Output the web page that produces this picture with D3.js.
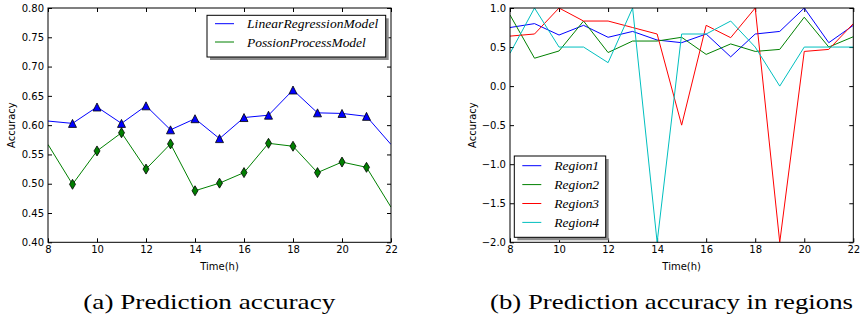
<!DOCTYPE html>
<html>
  <head>
    <meta charset="utf-8">
    <script src="https://d3js.org/d3.v7.min.js" type="text/javascript"></script>
    <style>
      body { margin: 0; background: white; }
      .tick text { font-family: "DejaVu Sans", sans-serif; font-size: 10px; fill: black; }
      .tick line { stroke: black; stroke-width: 1; }
      .label { font-family: "DejaVu Sans", sans-serif; font-size: 10px; }
      .legend text { font-family: "Liberation Serif", "Times New Roman", Times, serif; font-style: italic; font-size: 13.5px; }
      .caption { font-family: "Liberation Serif", "Times New Roman", Times, serif; font-size: 22px; }
    </style>
  </head>
  <body>
    <script>

      // hours on the x axis
      var hours = [8, 9, 10, 11, 12, 13, 14, 15, 16, 17, 18, 19, 20, 21, 22];
      var xTicks = [8, 10, 12, 14, 16, 18, 20, 22];

      // (a) overall accuracy
      var linearRegression = [0.607, 0.603, 0.631, 0.603, 0.633, 0.592, 0.611, 0.577, 0.613, 0.617, 0.660, 0.621, 0.620, 0.615, 0.567];
      var possionProcess = [0.567, 0.499, 0.556, 0.587, 0.525, 0.568, 0.488, 0.501, 0.519, 0.569, 0.564, 0.519, 0.537, 0.528, 0.460];
      var yTicksA = [0.40, 0.45, 0.50, 0.55, 0.60, 0.65, 0.70, 0.75, 0.80];

      // (b) accuracy per region
      var region1 = [0.75, 0.80, 0.654, 0.778, 0.625, 0.70, 0.59, 0.556, 0.667, 0.375, 0.667, 0.70, 1.0, 0.556, 0.778];
      var region2 = [0.91, 0.357, 0.45, 0.833, 0.43, 0.577, 0.577, 0.625, 0.406, 0.54, 0.444, 0.47, 0.882, 0.50, 0.632];
      var region3 = [0.64, 0.667, 1.0, 0.833, 0.833, 0.75, 0.667, -0.5, 0.778, 0.62, 1.0, -2.0, 0.444, 0.47, 0.80];
      var region4 = [0.42, 1.0, 0.5, 0.5, 0.30, 1.0, -2.0, 0.667, 0.667, 0.833, 0.5, 0.0, 0.5, 0.5, 0.5];
      var yTicksB = [-2.0, -1.5, -1.0, -0.5, 0.0, 0.5, 1.0];

      var svg = d3.select("body").append("svg")
          .attr("width", 861)
          .attr("height", 322);

      function panel(opt) {
        var x = d3.scaleLinear().domain([8, 22]).range([opt.left, opt.right]);
        var y = d3.scaleLinear().domain(opt.yDomain).range([opt.bottom, opt.top]);
        var w = opt.right - opt.left, h = opt.bottom - opt.top;
        var g = svg.append("g");

        g.append("clipPath").attr("id", opt.id)
          .append("rect")
            .attr("x", opt.left).attr("y", opt.top)
            .attr("width", w).attr("height", h);

        // inward ticks on all four sides
        g.append("g").attr("transform", "translate(0," + opt.bottom + ")")
            .call(d3.axisBottom(x).tickValues(xTicks).tickSize(-4).tickPadding(4).tickFormat(d3.format("d")));
        g.append("g").attr("transform", "translate(0," + opt.top + ")")
            .call(d3.axisTop(x).tickValues(xTicks).tickSize(-4).tickFormat(""));
        g.append("g").attr("transform", "translate(" + opt.left + ",0)")
            .call(d3.axisLeft(y).tickValues(opt.yTicks).tickSize(-4).tickPadding(4).tickFormat(d3.format(opt.fmt)));
        g.append("g").attr("transform", "translate(" + opt.right + ",0)")
            .call(d3.axisRight(y).tickValues(opt.yTicks).tickSize(-4).tickFormat(""));
        g.selectAll(".domain").remove();

        var line = d3.line()
            .x(function(d) { return x(d.h); })
            .y(function(d) { return y(d.v); });

        var plot = g.append("g").attr("clip-path", "url(#" + opt.id + ")");
        opt.series.forEach(function(s) {
          var pts = s.values.map(function(v, i) { return {h: hours[i], v: v}; });
          plot.append("path")
              .datum(pts)
              .attr("d", line)
              .attr("fill", "none")
              .attr("stroke", s.color)
              .attr("stroke-width", 1);
          if (s.marker) {
            plot.selectAll(null)
                .data(pts.slice(1, pts.length - 1))
                .enter().append("path")
                .attr("d", s.marker)
                .attr("transform", function(d) { return "translate(" + x(d.h) + "," + y(d.v) + ")"; })
                .attr("fill", s.color)
                .attr("stroke", "black")
                .attr("stroke-width", 0.8);
          }
        });

        g.append("rect")
            .attr("x", opt.left).attr("y", opt.top)
            .attr("width", w).attr("height", h)
            .attr("fill", "none")
            .attr("stroke", "black")
            .attr("stroke-width", 1);

        g.append("text")
            .attr("class", "label")
            .attr("x", (opt.left + opt.right) / 2)
            .attr("y", opt.bottom + 28)
            .attr("text-anchor", "middle")
            .text("Time(h)");

        g.append("text")
            .attr("class", "label")
            .attr("transform", "rotate(-90)")
            .attr("x", -(opt.top + opt.bottom) / 2)
            .attr("y", opt.yLabelX)
            .attr("text-anchor", "middle")
            .text("Accuracy");

        // legend with drop shadow
        var lg = g.append("g").attr("class", "legend");
        var L = opt.legend;
        lg.append("rect")
            .attr("x", L.x + 3).attr("y", L.y + 3)
            .attr("width", L.w).attr("height", L.h)
            .attr("fill", "#8c8c8c");
        lg.append("rect")
            .attr("x", L.x).attr("y", L.y)
            .attr("width", L.w).attr("height", L.h)
            .attr("fill", "white")
            .attr("stroke", "black")
            .attr("stroke-width", 1);
        opt.series.forEach(function(s, i) {
          var ly = L.y + L.first + i * L.step;
          lg.append("line")
              .attr("x1", L.x + 8).attr("x2", L.x + 27)
              .attr("y1", ly).attr("y2", ly)
              .attr("stroke", s.color)
              .attr("stroke-width", 1);
          lg.append("text")
              .attr("x", L.x + 40)
              .attr("y", ly + 4.5)
              .attr("textLength", s.name.length * L.charW)
              .attr("lengthAdjust", "spacing")
              .text(s.name);
        });

        svg.append("text")
            .attr("class", "caption")
            .attr("x", opt.capX)
            .attr("y", 309)
            .attr("textLength", opt.capW)
            .attr("lengthAdjust", "spacingAndGlyphs")
            .text(opt.caption);
      }

      var tri = "M0,-4L4,4L-4,4Z";
      var diamond = "M0,-5L3,0L0,5L-3,0Z";

      panel({
        id: "clipA", left: 48, right: 391, top: 8, bottom: 242.3,
        yDomain: [0.40, 0.80], yTicks: yTicksA, fmt: ".2f", yLabelX: 15,
        series: [
          {name: "LinearRegressionModel", values: linearRegression, color: "#0000ff", marker: tri},
          {name: "PossionProcessModel", values: possionProcess, color: "#008000", marker: diamond}
        ],
        legend: {x: 207, y: 15.3, w: 178.7, h: 41.7, first: 8.4, step: 18.3, charW: 6.25},
        caption: "(a) Prediction accuracy", capX: 83.3, capW: 252
      });

      panel({
        id: "clipB", left: 510, right: 853.3, top: 8, bottom: 242.3,
        yDomain: [-2.0, 1.0], yTicks: yTicksB, fmt: ".1f", yLabelX: 476,
        series: [
          {name: "Region1", values: region1, color: "#0000ff"},
          {name: "Region2", values: region2, color: "#008000"},
          {name: "Region3", values: region3, color: "#ff0000"},
          {name: "Region4", values: region4, color: "#00bfbf"}
        ],
        legend: {x: 514.3, y: 156, w: 91.4, h: 81.3, first: 9.7, step: 18.9, charW: 6.4},
        caption: "(b) Prediction accuracy in regions", capX: 490, capW: 363
      });

    </script>
  </body>
</html>
